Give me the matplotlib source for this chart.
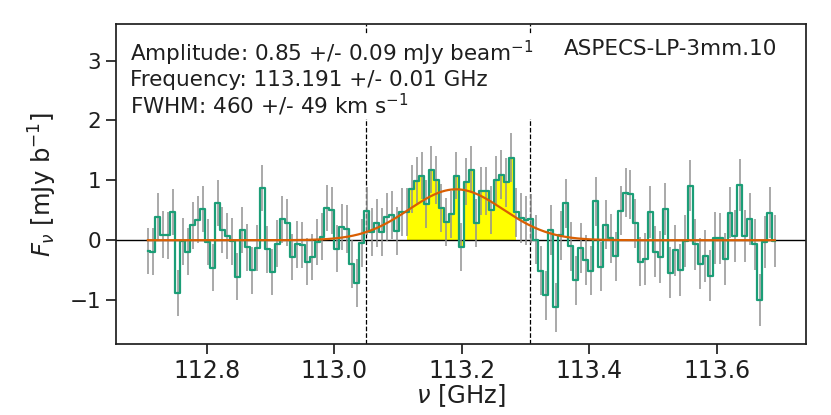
import numpy as np
import matplotlib
matplotlib.use("Agg")
import matplotlib.pyplot as plt

# channel grid (7.8125 MHz channels)
f0 = 112.707
dnu = 0.0078125

flux = [-0.18, -0.19, 0.39, 0.09, 0.08, 0.47, -0.88, -0.02, -0.19, 0.25,
        0.34, 0.52, -0.03, -0.46, 0.62, 0.17, 0.07, -0.02, -0.61, 0.17,
        -0.12, -0.50, -0.13, 0.87, -0.15, -0.53, -0.06, 0.35, 0.29, -0.28,
        -0.07, -0.08, -0.36, -0.28, -0.03, 0.06, 0.54, 0.50, -0.14, 0.22,
        0.19, -0.40, -0.71, -0.04, 0.49, 0.14, 0.29, 0.14, 0.39, 0.42,
        0.16, 0.47, 0.47, 0.86, 0.99, 1.08, 0.61, 1.18, 1.00, 0.54,
        0.31, 0.43, 1.08, -0.12, 0.98, 1.18, 0.28, 0.82, 0.82, 0.50,
        1.00, 1.09, 0.97, 1.38, 0.47, 0.37, 0.33, 0.36, 0.01, -0.51,
        -0.92, 0.17, -1.12, 0.08, 0.62, -0.10, -0.67, -0.13, -0.33, -0.51,
        0.65, -0.44, 0.26, 0.03, -0.27, 0.49, 0.79, 0.77, 0.28, -0.36,
        -0.31, 0.47, -0.19, -0.28, 0.52, -0.54, -0.17, -0.50, -0.01, 0.91,
        -0.07, -0.39, -0.26, -0.59, 0.04, 0.03, -0.31, 0.46, 0.07, 0.92,
        0.07, 0.35, -0.07, -1.00, -0.03, 0.46, -0.01]

err = [0.39]*40 + [0.40]*30 + [0.41]*30 + [0.43]*27

# gaussian fit parameters (from the label)
amp = 0.85
amp_err = 0.09
nu0 = 113.191
nu0_err = 0.01
fwhm = 460
fwhm_err = 49

line_lo, line_hi = 113.050, 113.307   # dashed markers
fill_lo, fill_hi = 52, 75             # channels shaded yellow

freq = f0 + dnu*np.arange(len(flux))
flux = np.array(flux)
err = np.array(err)

teal = '#1b9e77'
orange = '#d95f02'
dark = '#1f1f1f'

plt.rcParams['font.family'] = 'DejaVu Sans'
plt.rcParams['text.color'] = dark
plt.rcParams['axes.labelcolor'] = dark
plt.rcParams['xtick.color'] = dark
plt.rcParams['ytick.color'] = dark

fig = plt.figure(figsize=(8.31, 4.15), dpi=100)
ax = fig.add_axes([0.1396, 0.1711, 0.8300, 0.7703])

ax.fill_between(freq[fill_lo:fill_hi], 0, flux[fill_lo:fill_hi], step='mid',
                color='yellow', lw=0, zorder=1)
ax.axhline(0, color='black', lw=1, zorder=2)
ax.errorbar(freq, flux, yerr=err, fmt='none', ecolor='#929292', elinewidth=1.1,
            zorder=3)
ax.step(freq, flux, where='mid', color=teal, lw=1.6, zorder=4)

sig = fwhm/3e5*nu0/(2*np.sqrt(2*np.log(2)))
xx = np.linspace(freq[0], freq[-1], 600)
ax.plot(xx, amp*np.exp(-0.5*((xx - nu0)/sig)**2), color=orange, lw=1.6, zorder=5)

ax.axvline(line_lo, color='black', ls='--', lw=0.9, zorder=2)
ax.axvline(line_hi, color='black', ls='--', lw=0.9, zorder=2)

txt = ('Amplitude: %.2f +/- %.2f mJy beam$^{-1}$\n'
       'Frequency: %.3f +/- %.2f GHz\n'
       'FWHM: %d +/- %d km s$^{-1}$' % (amp, amp_err, nu0, nu0_err, fwhm, fwhm_err))
box = dict(facecolor='white', edgecolor='none', pad=1)
ax.text(0.021, 0.955, txt, transform=ax.transAxes, ha='left', va='top',
        fontsize=15.5, linespacing=1.1, bbox=box, zorder=10)
ax.text(0.958, 0.955, 'ASPECS-LP-3mm.10', transform=ax.transAxes, ha='right',
        va='top', fontsize=15.5, bbox=box, zorder=10)

ax.set_xlim(112.657, 113.740)
ax.set_ylim(-1.733, 3.605)
ax.set_xticks([112.8, 113.0, 113.2, 113.4, 113.6])
ax.set_yticks([-1, 0, 1, 2, 3])
ax.tick_params(length=7, width=1.25, direction='out')
ax.tick_params(axis='x', labelsize=17)
ax.tick_params(axis='y', labelsize=15.5)
for s in ax.spines.values():
    s.set_color(dark)
    s.set_linewidth(1.25)
ax.set_xlabel(r'$\nu$ [GHz]', fontsize=17.5, labelpad=0)
ax.set_ylabel(r'$F_\nu$ [mJy b$^{-1}$]', fontsize=17.5, labelpad=8)

fig.savefig('out.png', dpi=100)
